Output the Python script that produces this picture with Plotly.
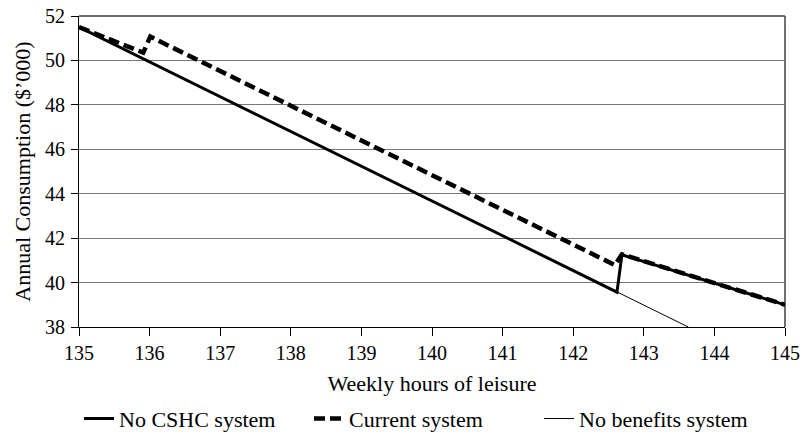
import plotly.graph_objects as go

# Data
no_cshc_x = [135, 142.62, 142.69, 145]
no_cshc_y = [51.5, 39.57, 41.25, 39.0]

current_x = [135, 135.91, 136.01, 142.59, 142.69, 145]
current_y = [51.5, 50.35, 51.07, 40.79, 41.27, 39.0]

nobenefit_x = [135, 143.63]
nobenefit_y = [51.5, 38.0]

x_ticks = [135, 136, 137, 138, 139, 140, 141, 142, 143, 144, 145]
y_ticks = [38, 40, 42, 44, 46, 48, 50, 52]

font = "Liberation Serif, Times New Roman, serif"

fig = go.Figure()
fig.add_trace(go.Scatter(x=no_cshc_x, y=no_cshc_y, mode="lines", name="No CSHC system",
                         line=dict(color="black", width=3)))
fig.add_trace(go.Scatter(x=current_x, y=current_y, mode="lines", name="Current system",
                         line=dict(color="black", width=4.5, dash="11px,5px")))
fig.add_trace(go.Scatter(x=nobenefit_x, y=nobenefit_y, mode="lines", name="No benefits system",
                         line=dict(color="black", width=1)))

fig.update_layout(
    width=800, height=434,
    margin=dict(l=79, r=15, t=16, b=107, autoexpand=False),
    paper_bgcolor="white", plot_bgcolor="white",
    font=dict(family=font, size=20, color="black"),
    showlegend=True,
    legend=dict(orientation="h", x=0.0, xanchor="left", y=-0.295, yanchor="middle",
                font=dict(family=font, size=22, color="black"),
                entrywidth=185, entrywidthmode="pixels", tracegroupgap=0),
    xaxis=dict(range=[135, 145], tickvals=x_ticks, ticks="outside", ticklen=8,
               tickcolor="black", showline=True, linecolor="black", linewidth=1,
               showgrid=False, zeroline=False, automargin=False,
               tickfont=dict(family=font, size=20, color="black"),
               title=dict(text="Weekly hours of leisure", font=dict(family=font, size=22, color="black"),
                          standoff=12)),
    yaxis=dict(range=[38, 52], tickvals=y_ticks, ticks="outside", ticklen=7,
               tickcolor="black", showline=True, linecolor="black", linewidth=1,
               showgrid=True, gridcolor="#777777", gridwidth=1, zeroline=False, automargin=False,
               ticklabelstandoff=2,
               tickfont=dict(family=font, size=20, color="black"),
               title=dict(text="Annual Consumption ($\u2019000)", font=dict(family=font, size=22, color="black"),
                          standoff=8)),
)

# frame on top and right
fig.add_shape(type="line", xref="paper", yref="paper", x0=0, x1=1, y0=1, y1=1,
              line=dict(color="#404040", width=1.5), layer="below")
fig.add_shape(type="line", xref="paper", yref="paper", x0=1, x1=1, y0=0, y1=1,
              line=dict(color="#404040", width=1.5), layer="below")

fig.write_html("out.html", config={"displayModeBar": False},
               post_script="document.body.style.margin='0px';")
